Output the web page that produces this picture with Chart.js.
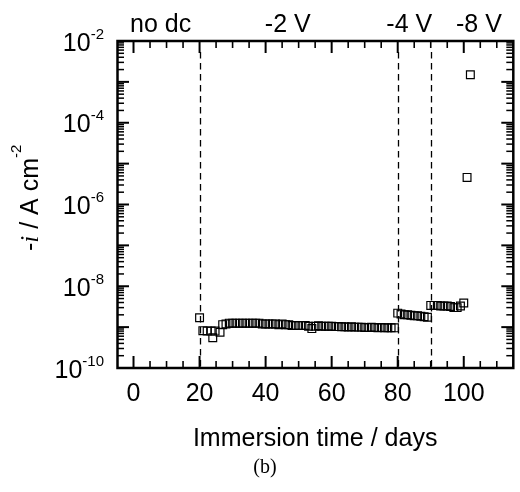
<!DOCTYPE html>
<html>
<head>
<meta charset="utf-8">
<script src="https://cdn.jsdelivr.net/npm/chart.js@4/dist/chart.umd.min.js"></script>
<style>
  html, body { margin: 0; padding: 0; background: #fff; }
  canvas { display: block; }
</style>
</head>
<body>
<canvas id="chart" width="520" height="492"></canvas>
<script>
// immersion time (days) and cathodic current density -i (A cm^-2)
const days = [
  20, 21, 22.3, 23.5, 24, 24.7, 26.2,
  27, 28, 29, 30, 31, 32, 33, 34, 35, 36, 37, 38, 39, 40,
  41, 42, 43, 44, 45, 46, 47, 48, 49, 50, 51, 52, 53, 54,
  55, 56, 57, 58, 59, 60, 61, 62, 63, 64, 65, 66, 67, 68,
  69, 70, 71, 72, 73, 74, 75, 76, 77, 78, 79,
  80, 81, 82, 83, 84, 85, 86, 87, 88, 89,
  90, 91, 92, 93, 94, 95, 96, 97, 98, 99, 100,
  101, 102
];
const current = [
  1.7e-9, 8.2e-10, 8.0e-10, 8.0e-10, 5.5e-10, 8.0e-10, 7.5e-10,
  1.15e-9, 1.2e-9, 1.25e-9, 1.25e-9, 1.25e-9, 1.25e-9, 1.25e-9, 1.25e-9, 1.25e-9, 1.25e-9, 1.25e-9, 1.25e-9, 1.2e-9, 1.2e-9,
  1.2e-9, 1.2e-9, 1.2e-9, 1.15e-9, 1.2e-9, 1.15e-9, 1.15e-9, 1.1e-9, 1.1e-9, 1.1e-9, 1.1e-9, 1.1e-9, 1.05e-9, 9.2e-10,
  1.05e-9, 1.08e-9, 1.05e-9, 1.05e-9, 1.05e-9, 1.05e-9, 1.03e-9, 1.03e-9, 1.02e-9, 1.02e-9, 1.0e-9, 1.02e-9, 1.0e-9, 1.0e-9,
  1.0e-9, 9.8e-10, 9.8e-10, 1.0e-9, 9.8e-10, 9.7e-10, 9.8e-10, 9.7e-10, 9.6e-10, 9.7e-10, 9.6e-10,
  2.2e-9, 2.1e-9, 2.0e-9, 2.0e-9, 1.95e-9, 1.9e-9, 1.9e-9, 1.85e-9, 1.8e-9, 1.75e-9,
  3.4e-9, 3.4e-9, 3.4e-9, 3.3e-9, 3.3e-9, 3.3e-9, 3.2e-9, 3.0e-9, 3.0e-9, 3.3e-9, 3.9e-9,
  4.6e-6, 1.5e-3
];

// applied bias stages
const stageBoundaries = [20, 80, 90];
const stageLabels = ['no dc', '-2 V', '-4 V', '-8 V'];
const stageLabelDays = [8.2, 46.7, 83.5, 104.6];

const xTickValues = [0, 20, 40, 60, 80, 100];
const xTickLabels = ['0', '20', '40', '60', '80', '100'];
const yLabelExponents = [-2, -4, -6, -8, -10];

const FONT = '"Liberation Sans", Arial, sans-serif';

const stageLines = {
  id: 'stageLines',
  beforeDatasetsDraw(chart) {
    const { ctx, chartArea: a, scales: { x } } = chart;
    ctx.save();
    ctx.strokeStyle = '#000';
    ctx.lineWidth = 1.3;
    ctx.setLineDash([6.5, 4.5]);
    stageBoundaries.forEach(d => {
      const px = Math.round(x.getPixelForValue(d)) + 0.5;
      ctx.beginPath();
      ctx.moveTo(px, a.top + 11);
      ctx.lineTo(px, a.bottom);
      ctx.stroke();
    });
    ctx.restore();
  }
};

const frameTicks = {
  id: 'frameTicks',
  afterDatasetsDraw(chart) {
    const { ctx, chartArea: a, scales: { x, y } } = chart;
    const right = Math.min(a.right, 519);
    ctx.save();
    ctx.strokeStyle = '#000';

    function tick(x1, y1, x2, y2, w) {
      ctx.lineWidth = w;
      ctx.beginPath();
      ctx.moveTo(x1, y1);
      ctx.lineTo(x2, y2);
      ctx.stroke();
    }

    // x ticks, bottom and top, pointing inward
    for (let d = 0; d <= 110; d += 5) {
      const px = x.getPixelForValue(d);
      const major = d % 20 === 0 && d <= 100;
      const len = major ? 12 : 7;
      const w = major ? 2 : 1.6;
      tick(px, a.bottom, px, a.bottom - len, w);
      tick(px, a.top, px, a.top + len, w);
    }

    // log y ticks, left and right
    for (let e = -10; e <= -2; e++) {
      const py = y.getPixelForValue(Math.pow(10, e));
      tick(a.left, py, a.left + 12, py, 2);
      tick(right, py, right - 12, py, 2);
      if (e === -2) continue;
      for (let m = 2; m <= 9; m++) {
        const pm = y.getPixelForValue(m * Math.pow(10, e));
        tick(a.left, pm, a.left + 7, pm, 1.5);
        tick(right, pm, right - 7, pm, 1.5);
      }
    }

    ctx.lineWidth = 2.5;
    ctx.strokeRect(a.left + 0.5, a.top, right - a.left - 0.5, a.bottom - a.top);
    ctx.restore();
  }
};

const labels = {
  id: 'labels',
  afterDraw(chart) {
    const { ctx, chartArea: a, scales: { x, y } } = chart;
    ctx.save();
    ctx.fillStyle = '#000';
    ctx.textBaseline = 'alphabetic';

    // stage names above the plot
    ctx.font = '25px ' + FONT;
    ctx.textAlign = 'center';
    stageLabels.forEach((t, i) => {
      ctx.fillText(t, x.getPixelForValue(stageLabelDays[i]), 31.5);
    });

    // x tick labels
    xTickValues.forEach((v, i) => {
      ctx.fillText(xTickLabels[i], x.getPixelForValue(v), 401);
    });

    // x title
    ctx.fillText('Immersion time / days', (a.left + a.right) / 2, 446);

    // panel label
    ctx.font = '20px "Liberation Serif", "Times New Roman", serif';
    ctx.fillText('(b)', 265, 473);

    // y tick labels 10^n
    ctx.textAlign = 'right';
    yLabelExponents.forEach(e => {
      const py = y.getPixelForValue(Math.pow(10, e));
      const sup = String(e);
      ctx.font = '15px ' + FONT;
      const supW = ctx.measureText(sup).width;
      ctx.fillText(sup, 104, py - 2.5);
      ctx.font = '25px ' + FONT;
      ctx.fillText('10', 104 - supW, py + 9.5);
    });

    // y title: -i / A cm^-2, rotated
    ctx.translate(38, 251);
    ctx.rotate(-Math.PI / 2);
    ctx.textAlign = 'left';
    let cx = 0;
    const parts = [
      ['-', '25px ' + FONT, 0],
      ['i', 'italic 25px "Liberation Serif", serif', 0],
      [' / A cm', '25px ' + FONT, 0],
      ['-2', '15px ' + FONT, -17.5]
    ];
    parts.forEach(([t, f, dy]) => {
      ctx.font = f;
      ctx.fillText(t, cx, dy);
      cx += ctx.measureText(t).width;
    });
    ctx.restore();
  }
};

new Chart(document.getElementById('chart'), {
  type: 'scatter',
  data: {
    datasets: [{
      data: days.map((d, i) => ({ x: d, y: current[i] })),
      pointStyle: 'rect',
      pointRadius: 5.5,
      pointHoverRadius: 5.5,
      borderColor: '#000',
      backgroundColor: 'rgba(0,0,0,0)',
      borderWidth: 1.2
    }]
  },
  options: {
    responsive: false,
    animation: false,
    devicePixelRatio: 1,
    events: [],
    layout: { padding: { left: 117, top: 41, right: 0, bottom: 124 } },
    plugins: { legend: { display: false }, tooltip: { enabled: false } },
    scales: {
      x: { type: 'linear', display: false, min: -5, max: 115 },
      y: { type: 'logarithmic', display: false, min: 1e-10, max: 1e-2 }
    }
  },
  plugins: [stageLines, frameTicks, labels]
});
</script>
</body>
</html>
